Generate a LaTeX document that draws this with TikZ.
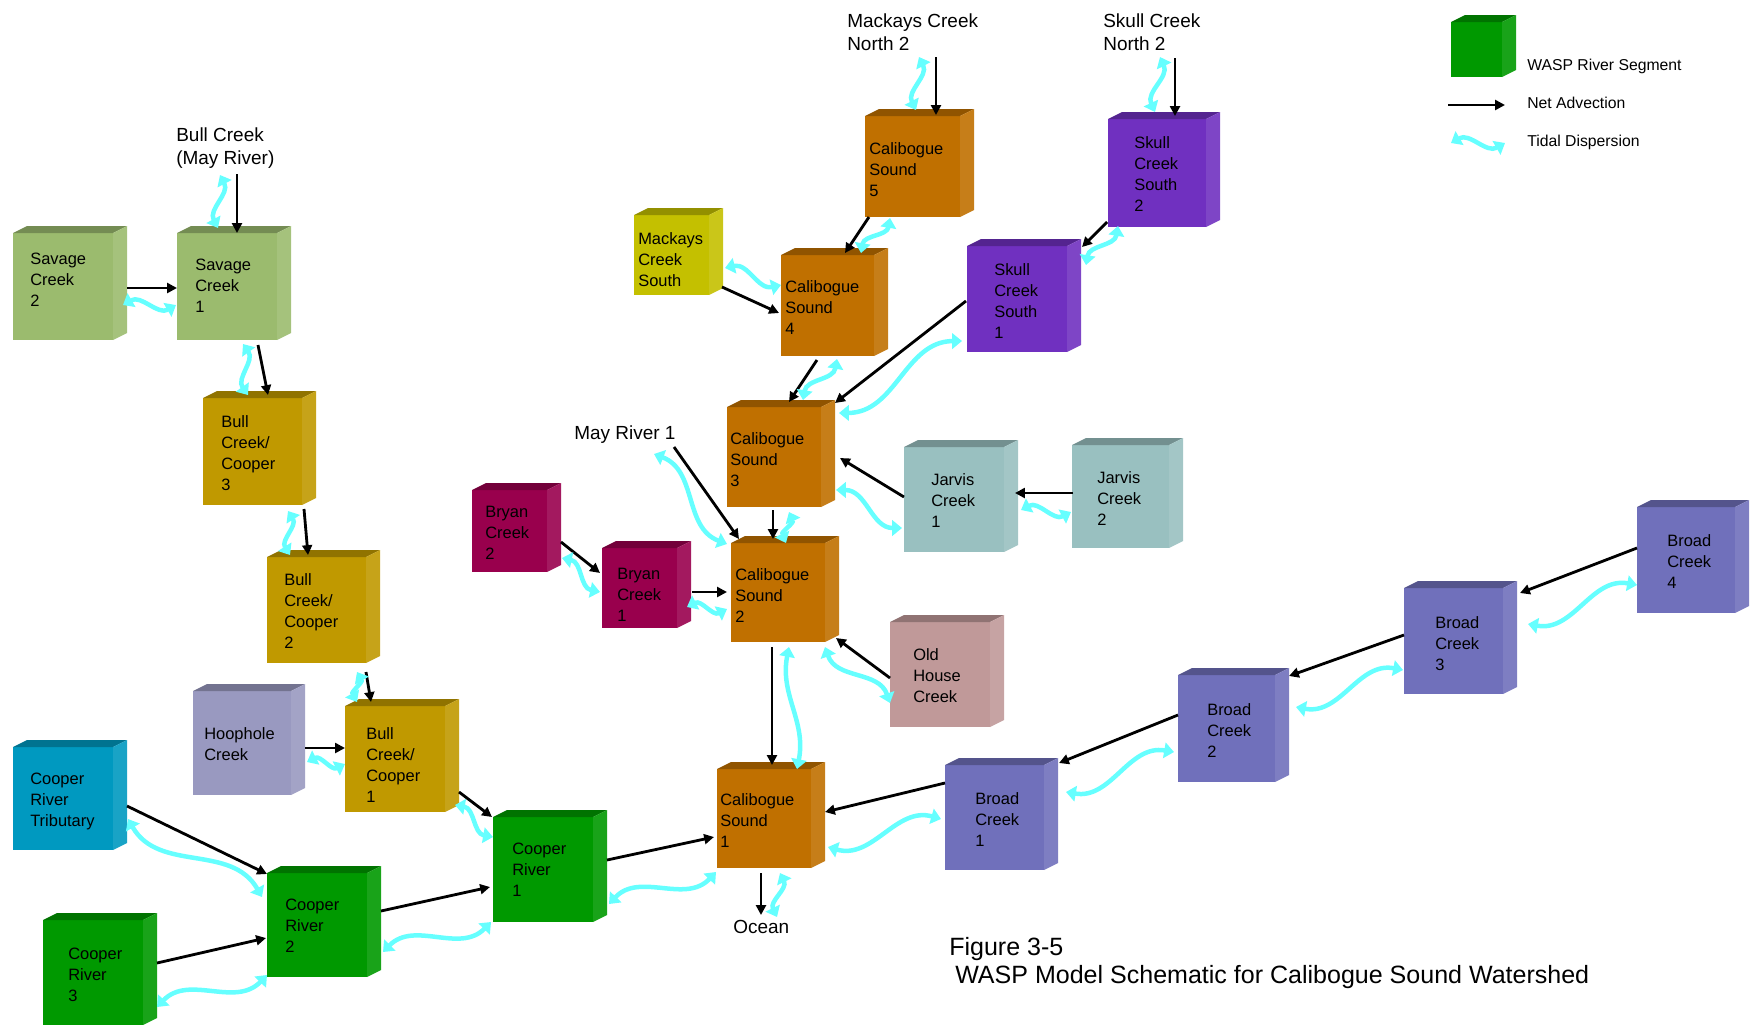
\documentclass[tikz,border=0pt]{standalone}
\usepackage{fontspec}
\setmainfont{Liberation Sans}
\usetikzlibrary{arrows.meta,calc}

\definecolor{savcol}{HTML}{9BBB6E}
\definecolor{bcccol}{HTML}{C09900}
\definecolor{hoopcol}{HTML}{9999C0}
\definecolor{tribcol}{HTML}{0099C0}
\definecolor{crcol}{HTML}{009900}
\definecolor{calcol}{HTML}{C07000}
\definecolor{mackcol}{HTML}{C4C000}
\definecolor{brycol}{HTML}{99004D}
\definecolor{skullcol}{HTML}{7030C0}
\definecolor{jarcol}{HTML}{99C0C0}
\definecolor{oldcol}{HTML}{C09999}
\definecolor{brdcol}{HTML}{7070BB}
\definecolor{tidecol}{HTML}{66FFFF}

\newcommand\pxu{0.025cm}
\newcommand\segfont{\fontsize{11.7}{14.9}\selectfont}
\newcommand\labfont{\fontsize{13.5}{16.4}\selectfont}
\newcommand\legfont{\fontsize{11.2}{13.5}\selectfont}
\newcommand\titlefont{\fontsize{17.8}{19.9}\selectfont}

\tikzset{
  seg/.style={rectangle, anchor=north west, inner sep=0pt, outer sep=0pt},
  segtext/.style={anchor=north west, align=left, inner sep=0pt, font=\segfont},
  lab/.style={anchor=north west, align=left, inner sep=0pt, font=\labfont},
  legtext/.style={anchor=north west, inner sep=0pt, font=\legfont},
  adv/.style={line width=2pt, -{Triangle[length=7pt,width=7pt]}},
  tidal/.style={draw=tidecol, line width=3.2pt, <->, >={Triangle[length=7pt,width=11pt]},
    to path={.. controls ($(\tikztostart)!0.4!#1:(\tikztotarget)$)
      and ($(\tikztotarget)!0.4!#1:(\tikztostart)$) .. (\tikztotarget)}},
  tidal/.default=30
}

% segment box: name, x, y, width, height, colour, text dx, text dy, text
\newcommand\wspseg[9]{%
  \node[seg, fill=#6, minimum width=#4*\pxu, minimum height=#5*\pxu,
    label={[segtext, xshift=#7*\pxu, yshift=-#8*\pxu]north west:{#9}}] (#1) at (#2,#3) {};
  \fill[#6!75!black] (#1.north west) -- ++(14,-7) -- ($(#1.north east)+(14,-7)$) -- (#1.north east) -- cycle;
  \fill[#6!90!white] (#1.north east) -- ++(14,-7) -- ($(#1.south east)+(14,-7)$) -- (#1.south east) -- cycle;
}

\begin{document}
\begin{tikzpicture}[x=0.025cm, y=-0.025cm]
  \useasboundingbox (0,0) rectangle (1750,1034);

  % Savage Creek / Bull Creek branch
  \wspseg{sav2}{13}{233}{100}{107}{savcol}{17}{20}{Savage\\Creek\\2}
  \wspseg{sav1}{177}{233}{100}{107}{savcol}{18}{26}{Savage\\Creek\\1}
  \wspseg{bcc3}{203}{398}{99}{107}{bcccol}{18}{17}{Bull\\Creek/\\Cooper\\3}
  \wspseg{bcc2}{267}{557}{99}{106}{bcccol}{17}{16}{Bull\\Creek/\\Cooper\\2}
  \wspseg{hoop}{193}{691}{98}{104}{hoopcol}{11}{36}{Hoophole\\Creek}
  \wspseg{bcc1}{345}{706}{100}{106}{bcccol}{21}{21}{Bull\\Creek/\\Cooper\\1}

  % Cooper River
  \wspseg{trib}{13}{747}{100}{103}{tribcol}{17}{26}{Cooper\\River\\Tributary}
  \wspseg{cr1}{493}{817}{100}{105}{crcol}{19}{26}{Cooper\\River\\1}
  \wspseg{cr2}{267}{873}{100}{104}{crcol}{18}{26}{Cooper\\River\\2}
  \wspseg{cr3}{43}{920}{100}{105}{crcol}{25}{28}{Cooper\\River\\3}

  % Calibogue Sound and tributaries
  \wspseg{cal5}{865}{116}{95}{101}{calcol}{4}{26}{Calibogue\\Sound\\5}
  \wspseg{mack}{634}{215}{75}{80}{mackcol}{4}{17}{Mackays\\Creek\\South}
  \wspseg{cal4}{781}{255}{93}{101}{calcol}{4}{25}{Calibogue\\Sound\\4}
  \wspseg{skull2}{1108}{119}{98}{108}{skullcol}{26}{17}{Skull\\Creek\\South\\2}
  \wspseg{skull1}{967}{246}{100}{106}{skullcol}{27}{17}{Skull\\Creek\\South\\1}
  \wspseg{cal3}{727}{407}{94}{100}{calcol}{3}{25}{Calibogue\\Sound\\3}
  \wspseg{cal2}{731}{543}{94}{99}{calcol}{4}{25}{Calibogue\\Sound\\2}
  \wspseg{bry2}{472}{490}{75}{82}{brycol}{13}{16}{Bryan\\Creek\\2}
  \wspseg{bry1}{602}{548}{75}{80}{brycol}{15}{20}{Bryan\\Creek\\1}
  \wspseg{jar1}{904}{447}{100}{105}{jarcol}{27}{26}{Jarvis\\Creek\\1}
  \wspseg{jar2}{1072}{445}{97}{103}{jarcol}{25}{26}{Jarvis\\Creek\\2}
  \wspseg{oldh}{890}{622}{100}{105}{oldcol}{23}{26}{Old\\House\\Creek}
  \wspseg{cal1}{717}{769}{94}{99}{calcol}{3}{24}{Calibogue\\Sound\\1}

  % Broad Creek
  \wspseg{brd1}{945}{765}{99}{105}{brdcol}{30}{27}{Broad\\Creek\\1}
  \wspseg{brd2}{1178}{675}{97}{107}{brdcol}{29}{28}{Broad\\Creek\\2}
  \wspseg{brd3}{1404}{588}{99}{106}{brdcol}{31}{28}{Broad\\Creek\\3}
  \wspseg{brd4}{1637}{507}{98}{106}{brdcol}{30}{27}{Broad\\Creek\\4}

  % Boundaries
  \node[lab] (bullmay) at (176,127) {Bull Creek\\(May River)};
  \node[lab] (macknorth) at (847,13) {Mackays Creek\\North 2};
  \node[lab] (skullnorth) at (1103,13) {Skull Creek\\North 2};
  \node[lab] (mayriver) at (574,425) {May River 1};
  \node[lab] (ocean) at (733,920) {Ocean};

  % Net advection
  \draw[adv] ($(sav2.north west)+(114,55)$) -- ($(sav1.north west)+(0,55)$);
  \draw[adv] ($(bullmay.north west)+(61,47)$) -- ($(sav1.north west)+(60,0)$);
  \draw[adv] ($(sav1.north west)+(81,112)$) -- ($(bcc3.north west)+(65,-3)$);
  \draw[adv] ($(bcc3.north west)+(101,111)$) -- ($(bcc2.north west)+(41,-2)$);
  \draw[adv] ($(bcc2.north west)+(99,115)$) -- ($(bcc1.north west)+(26,-4)$);
  \draw[adv] ($(hoop.north west)+(112,57)$) -- ($(bcc1.north west)+(0,42)$);
  \draw[adv] ($(bcc1.north west)+(114,86)$) -- ($(cr1.north west)+(-1,0)$);
  \draw[adv] ($(trib.north west)+(114,59)$) -- ($(cr2.north west)+(0,1)$);
  \draw[adv] ($(cr3.north west)+(114,43)$) -- ($(cr2.north west)+(-1,65)$);
  \draw[adv] ($(cr2.north west)+(114,38)$) -- ($(cr1.north west)+(-3,70)$);
  \draw[adv] ($(cr1.north west)+(114,43)$) -- ($(cal1.north west)+(-3,68)$);
  \draw[adv] ($(cal2.north west)+(41,104)$) -- ($(cal1.north west)+(55,-4)$);
  \draw[adv] ($(cal1.north west)+(44,104)$) -- ($(ocean.north west)+(28,-5)$);
  \draw[adv] ($(brd1.north west)+(0,18)$) -- ($(cal1.north west)+(108,43)$);
  \draw[adv] ($(brd2.north west)+(0,40)$) -- ($(brd1.north west)+(114,-2)$);
  \draw[adv] ($(brd3.north west)+(0,47)$) -- ($(brd2.north west)+(111,1)$);
  \draw[adv] ($(brd4.north west)+(0,41)$) -- ($(brd3.north west)+(116,5)$);
  \draw[adv] ($(oldh.north west)+(0,56)$) -- ($(cal2.north west)+(105,95)$);
  \draw[adv] ($(bry1.north west)+(90,44)$) -- ($(cal2.north west)+(-4,49)$);
  \draw[adv] ($(bry2.north west)+(89,52)$) -- ($(bry1.north west)+(-2,25)$);
  \draw[adv] ($(mayriver.north west)+(100,22)$) -- ($(cal2.north west)+(8,-4)$);
  \draw[adv] ($(cal3.north west)+(46,103)$) -- ($(cal2.north west)+(42,-4)$);
  \draw[adv] ($(jar1.north west)+(0,50)$) -- ($(cal3.north west)+(113,51)$);
  \draw[adv] ($(jar2.north west)+(1,48)$) -- ($(jar1.north west)+(111,46)$);
  \draw[adv] ($(cal4.north west)+(36,105)$) -- ($(cal3.north west)+(62,-5)$);
  \draw[adv] ($(skull1.north west)+(-1,55)$) -- ($(cal3.north west)+(108,-4)$);
  \draw[adv] ($(mack.north west)+(88,72)$) -- ($(cal4.north west)+(-2,58)$);
  \draw[adv] ($(cal5.north west)+(4,101)$) -- ($(cal4.north west)+(64,-2)$);
  \draw[adv] ($(skull2.north west)+(-1,103)$) -- ($(skull1.north west)+(115,1)$);
  \draw[adv] ($(macknorth.north west)+(89,44)$) -- ($(cal5.north west)+(71,-1)$);
  \draw[adv] ($(skullnorth.north west)+(72,45)$) -- ($(skull2.north west)+(67,-3)$);

  % Tidal dispersion
  \draw[tidal] ($(sav2.north west)+(110,72)$) to ($(sav1.north west)+(-1,72)$);
  \draw[tidal] ($(bullmay.north west)+(44,48)$) to ($(sav1.north west)+(41,-5)$);
  \draw[tidal] ($(sav1.north west)+(66,111)$) to ($(bcc3.north west)+(45,-3)$);
  \draw[tidal] ($(bcc3.north west)+(85,113)$) to ($(bcc2.north west)+(23,-2)$);
  \draw[tidal] ($(bcc2.north west)+(90,115)$) to ($(bcc1.north west)+(12,-4)$);
  \draw[tidal] ($(hoop.north west)+(114,71)$) to ($(bcc1.north west)+(0,58)$);
  \draw[tidal] ($(bcc1.north west)+(110,99)$) to ($(cr1.north west)+(0,20)$);
  \draw[tidal=-30] ($(trib.north west)+(115,72)$) to ($(cr2.north west)+(-5,24)$);
  \draw[tidal] ($(cr3.north west)+(114,87)$) to ($(cr2.north west)+(0,102)$);
  \draw[tidal] ($(cr2.north west)+(116,79)$) to ($(cr1.north west)+(-2,105)$);
  \draw[tidal] ($(cr1.north west)+(116,87)$) to ($(cal1.north west)+(-1,103)$);
  \draw[tidal=-15] ($(cal2.north west)+(58,104)$) to ($(cal1.north west)+(80,0)$);
  \draw[tidal] ($(cal1.north west)+(63,104)$) to ($(ocean.north west)+(44,-3)$);
  \draw[tidal=-30] ($(cal1.north west)+(111,78)$) to ($(brd1.north west)+(-4,54)$);
  \draw[tidal=-30] ($(brd1.north west)+(121,27)$) to ($(brd2.north west)+(-4,77)$);
  \draw[tidal=-30] ($(brd2.north west)+(118,32)$) to ($(brd3.north west)+(-1,82)$);
  \draw[tidal=-30] ($(brd3.north west)+(124,36)$) to ($(brd4.north west)+(0,78)$);
  \draw[tidal=-30] ($(cal2.north west)+(94,104)$) to ($(oldh.north west)+(0,81)$);
  \draw[tidal] ($(bry1.north west)+(85,59)$) to ($(cal2.north west)+(-4,66)$);
  \draw[tidal] ($(bry2.north west)+(90,68)$) to ($(bry1.north west)+(-2,44)$);
  \draw[tidal] ($(mayriver.north west)+(80,29)$) to ($(cal2.north west)+(-4,1)$);
  \draw[tidal] ($(cal3.north west)+(62,105)$) to ($(cal2.north west)+(55,0)$);
  \draw[tidal] ($(cal3.north west)+(109,83)$) to ($(jar1.north west)+(-2,81)$);
  \draw[tidal] ($(jar1.north west)+(117,63)$) to ($(jar2.north west)+(-1,67)$);
  \draw[tidal] ($(cal3.north west)+(76,-7)$) to ($(cal4.north west)+(56,104)$);
  \draw[tidal=-30] ($(cal3.north west)+(112,6)$) to ($(skull1.north west)+(-5,95)$);
  \draw[tidal] ($(mack.north west)+(91,53)$) to ($(cal4.north west)+(0,30)$);
  \draw[tidal] ($(cal5.north west)+(25,102)$) to ($(cal4.north west)+(80,-2)$);
  \draw[tidal] ($(skull2.north west)+(10,107)$) to ($(skull1.north west)+(119,19)$);
  \draw[tidal] ($(macknorth.north west)+(72,44)$) to ($(cal5.north west)+(51,-6)$);
  \draw[tidal] ($(skullnorth.north west)+(57,44)$) to ($(skull2.north west)+(47,-7)$);

  % Legend
  \wspseg{legbox}{1451}{22}{51}{55}{crcol}{0}{0}{}
  \node[legtext] (legseg) at (1527,59) {WASP River Segment};
  \node[legtext] (legadv) at (1527,97) {Net Advection};
  \node[legtext] (legtide) at (1527,135) {Tidal Dispersion};
  \coordinate (advA) at (1448,105);
  \coordinate (advB) at (1505,105);
  \draw[adv] (advA) -- (advB);
  \coordinate (tideA) at (1451,143);
  \coordinate (tideB) at (1505,143);
  \draw[tidal] (tideA) to (tideB);

  % Caption
  \node[anchor=north west, inner sep=0pt, font=\titlefont] (figno) at (949,937) {Figure 3-5};
  \node[anchor=north west, inner sep=0pt, font=\titlefont] (figtitle) at (955,965) {WASP Model Schematic for Calibogue Sound Watershed};
\end{tikzpicture}
\end{document}
